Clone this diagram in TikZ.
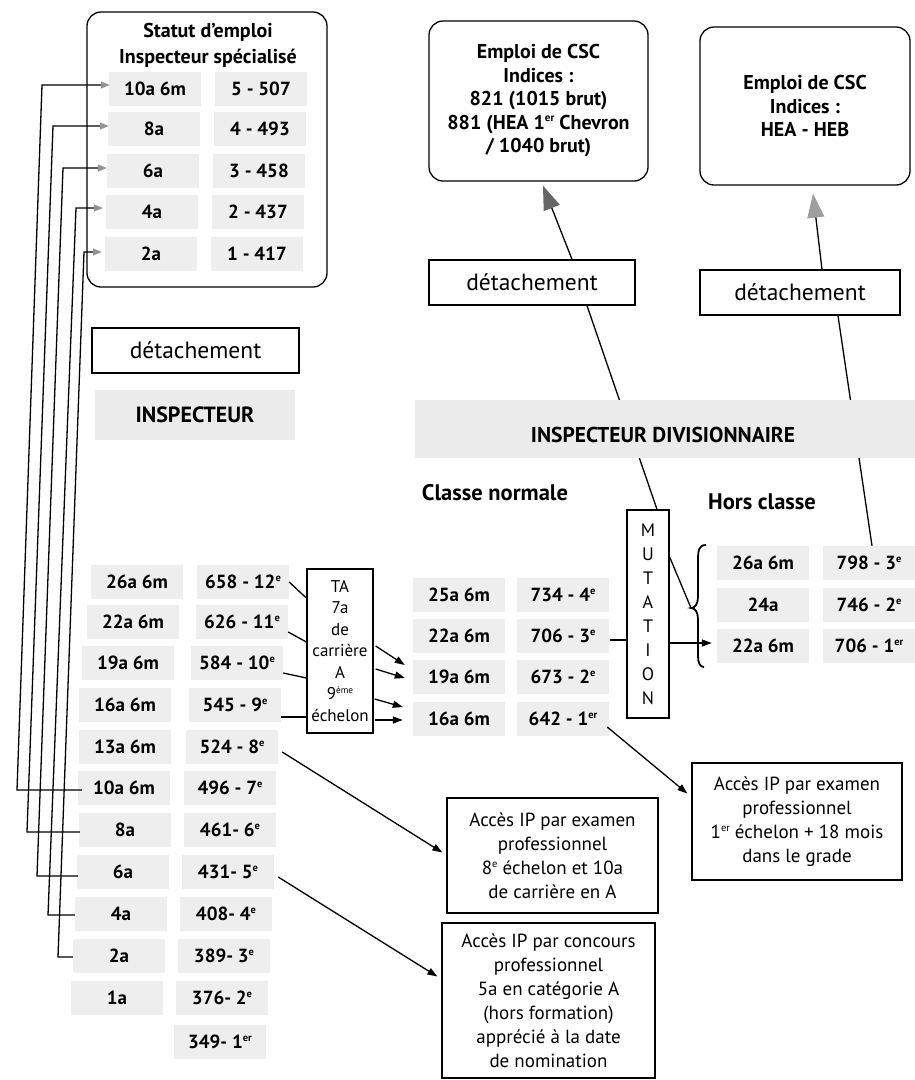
\documentclass[tikz,border=0pt]{standalone}
\usepackage{fontspec}
\setmainfont{PT Sans}
\usetikzlibrary{arrows.meta,calc}
\definecolor{cellgray}{gray}{0.935}
\definecolor{bandgray}{gray}{0.92}
\newcommand\myfs[2]{\fontsize{#1}{#2}\selectfont}
\newcommand\myexp[1]{\raisebox{0.75ex}{\scalebox{0.55}{#1}}}
\begin{document}
\begin{tikzpicture}[x=1pt,y=-1pt,
  cell/.style={fill=cellgray, minimum width=92pt, minimum height=34pt, inner sep=0pt, font=\bfseries\myfs{19}{21}},
  plainbox/.style={draw, line width=1.3pt, inner sep=0pt, align=center, font=\myfs{19}{24}},
  roundbox/.style={plainbox, rounded corners=14pt, font=\bfseries\myfs{20}{23.5}},
  detbox/.style={plainbox, font=\myfs{23.5}{25}},
  link/.style={line width=1.3pt},
  blacktip/.style={link, -{Triangle[length=10pt,width=7pt]}},
  graytip/.style={link, -{Triangle[length=9pt,width=7pt,color=gray!85]}},
  bigtip/.style={link, -{Triangle[length=24pt,width=17pt,color=#1]}},
  band/.style={fill=bandgray, inner sep=0pt},
  heading/.style={font=\bfseries\myfs{22.5}{24}}
]
\useasboundingbox (0,0) rectangle (915,1080);

% ---------- Statut d'emploi box ----------
\node[roundbox, minimum width=240pt, minimum height=275pt] (statut) at (207,149.5) {};
\node[font=\bfseries\myfs{20}{26}, align=center] (stitle) at (208,45) {Statut d’emploi\\Inspecteur spécialisé};
\foreach \n/\a/\b/\y/\xa/\xb in {s5/10a 6m/5 - 507/89/155/261, s4/8a/4 - 493/129/154/260, s3/6a/3 - 458/171/153/259, s2/4a/2 - 437/212/152/258, s1/2a/1 - 417/254/151/257}{
  \node[cell] (\n-a) at (\xa,\y) {\a};
  \node[cell] (\n-b) at (\xb,\y) {\b};
}

% ---------- CSC boxes ----------
\node[roundbox, minimum width=219pt, minimum height=160pt] (cscL) at (538.5,101) {Emploi de CSC\\Indices :\\821 (1015 brut)\\881 (HEA 1\myexp{er} Chevron\\/ 1040 brut)};
\node[roundbox, minimum width=210pt, minimum height=158pt] (cscR) at (805,106) {Emploi de CSC\\Indices :\\HEA - HEB};

% ---------- détachement boxes ----------
\node[detbox, minimum width=207pt, minimum height=45pt] (detA) at (195.5,350.5) {détachement};
\node[detbox, minimum width=206pt, minimum height=45pt] (detM) at (532,282.5) {détachement};
\node[detbox, minimum width=200pt, minimum height=45pt] (detR) at (800,292.5) {détachement};

% ---------- INSPECTEUR ----------
\node[band, minimum width=200pt, minimum height=50pt, font=\bfseries\myfs{22}{24}] (insp) at (195,415) {INSPECTEUR};

\foreach \n/\a/\b/\y/\xa/\xb in {r12/26a 6m/658 - 12\myexp{e}/582/137/243, r11/22a 6m/626 - 11\myexp{e}/622/133/242, r10/19a 6m/584 - 10\myexp{e}/663/128/237, r9/16a 6m/545 - 9\myexp{e}/705/125/235, r8/13a 6m/524 - 8\myexp{e}/747/125/232, r7/10a 6m/496 - 7\myexp{e}/788/124/230, r6/8a/461- 6\myexp{e}/830/125/230, r5/6a/431- 5\myexp{e}/872/123/228, r4/4a/408- 4\myexp{e}/914/121/226, r3/2a/389- 3\myexp{e}/956/119/224, r2/1a/376- 2\myexp{e}/998/117/222}{
  \node[cell] (\n-a) at (\xa,\y) {\a};
  \node[cell] (\n-b) at (\xb,\y) {\b};
}
\node[cell] (r1-b) at (220,1042) {349- 1\myexp{er}};

% ---------- TA box ----------
\node[plainbox, minimum width=66pt, minimum height=164pt, font=\myfs{17}{21.5}] (ta) at (340,651) {TA\\7a\\de\\carrière\\A\\9\myexp{ème}\\échelon};

% ---------- Inspecteur divisionnaire ----------
\node[heading] (cnlab) at (495,493) {Classe normale};
\node[heading] (hclab) at (762,502) {Hors classe};
\foreach \n/\a/\b/\y in {n4/25a 6m/734 - 4\myexp{e}/595, n3/22a 6m/706 - 3\myexp{e}/636, n2/19a 6m/673 - 2\myexp{e}/677, n1/16a 6m/642 - 1\myexp{er}/719}{
  \node[cell] (\n-a) at (459,\y) {\a};
  \node[cell] (\n-b) at (563,\y) {\b};
}
\foreach \n/\a/\b/\y in {h3/26a 6m/798 - 3\myexp{e}/563, h2/24a/746 - 2\myexp{e}/605, h1/22a 6m/706 - 1\myexp{er}/646}{
  \node[cell] (\n-a) at (763,\y) {\a};
  \node[cell] (\n-b) at (869,\y) {\b};
}
\node[plainbox, minimum width=42pt, minimum height=208pt, font=\myfs{18}{24}] (mut) at (648,614) {M\\U\\T\\A\\T\\I\\O\\N};

% lines passing under the band
\draw[link] ($(mut.north)+(9,0)$) -- ($(detM.south)+(55,0)$);
\draw[link] ($(h3-b.north)+(3,0)$) -- ($(detR.south)+(38,0)$);
\node[band, minimum width=500pt, minimum height=58pt] (idivband) at (665,429) {};
\node[font=\bfseries\myfs{21.5}{24}] (idiv) at (663,435) {INSPECTEUR DIVISIONNAIRE};

% ---------- Accès IP boxes ----------
\node[plainbox, minimum width=210pt, minimum height=117pt] (accR) at (797,821.5) {Accès IP par examen\\professionnel\\1\myexp{er} échelon + 18 mois\\dans le grade};
\node[plainbox, minimum width=211pt, minimum height=115pt] (acc8) at (552.5,855.5) {Accès IP par examen\\professionnel\\8\myexp{e} échelon et 10a\\de carrière en A};
\node[plainbox, minimum width=213pt, minimum height=155pt] (acc5) at (548.5,1000.5) {Accès IP par concours\\professionnel\\5a en catégorie A\\(hors formation)\\apprécié à la date\\de nomination};

% ---------- connectors ----------
% to statut d'emploi
\draw[graytip] ($(r7-a.west)+(4,2)$) -- (17,790) -- (42,85) -- ($(s5-a.west)+(1,-4)$);
\draw[graytip] ($(r6-a.west)+(1,2)$) -- (27,832) -- (53,126) -- ($(s4-a.west)+(1,-3)$);
\draw[graytip] ($(r5-a.west)+(1,4)$) -- (37,876) -- (63,168) -- ($(s3-a.west)+(0,-3)$);
\draw[graytip] ($(r4-a.west)+(0,1)$) -- (48,915) -- (76,208) -- ($(s2-a.west)+(-3,-4)$);
\draw[graytip] ($(r3-a.west)+(0,1)$) -- (58,957) -- (84,252) -- ($(s1-a.west)+(-3,-2)$);

% into TA
\draw[link] (r12-b.east) -- ($(ta.west)+(0,-53)$);
\draw[link] ($(r11-b.east)+(0,10)$) -- ($(ta.west)+(0,-9)$);
\draw[link] ($(r10-b.east)+(0,10)$) -- ($(ta.west)+(0,27)$);
\draw[link] ($(r9-b.east)+(0,12)$) -- ($(ta.west)+(0,66)$);
% out of TA
\draw[blacktip] ($(ta.east)+(2,-5)$) -- ($(n2-a.west)+(-8,-12)$);
\draw[blacktip] ($(ta.east)+(2,18)$) -- ($(n2-a.west)+(-8,1)$);
\draw[blacktip] ($(ta.east)+(1,48)$) -- ($(n1-a.west)+(-10,-12)$);
\draw[blacktip] ($(ta.east)+(1,69)$) -- ($(n1-a.west)+(-10,1)$);

% to Accès boxes
\draw[blacktip] ($(r8-b.east)+(4,5)$) -- ($(acc8.west)+(-4,-3)$);
\draw[blacktip] ($(r5-b.east)+(4,5)$) -- ($(acc5.west)+(-4,-24)$);
\draw[blacktip] ($(n1-b.east)+(-2,8)$) -- ($(accR.west)+(-4,-28)$);

% mutation
\draw[link] ($(n3-b.east)+(1,4)$) -- ($(mut.west)+(0,26)$);
\draw[blacktip] ($(mut.east)+(0,29)$) -- ($(h1-a.west)+(-5,-3)$);
\coordinate (bracetip) at (691,608);
\draw[line width=1.8pt] (706,545) .. controls (699,545) and (698,550) .. (698,560) -- (698,597) .. controls (698,604) and (695,608) .. (bracetip) .. controls (695,608) and (698,612) .. (698,619) -- (698,656) .. controls (698,663) and (700,667) .. (704,667);
\draw[link] ($(mut.east)+(0,-57)$) -- (bracetip);

% détachement to CSC
\draw[bigtip=gray!80!black] ($(detM.north)+(40,0)$) -- ($(cscL.south)+(4.5,4)$);
\draw[bigtip=gray!75] ($(detR.north)+(22,0)$) -- ($(cscR.south)+(8,8)$);
\end{tikzpicture}
\end{document}
